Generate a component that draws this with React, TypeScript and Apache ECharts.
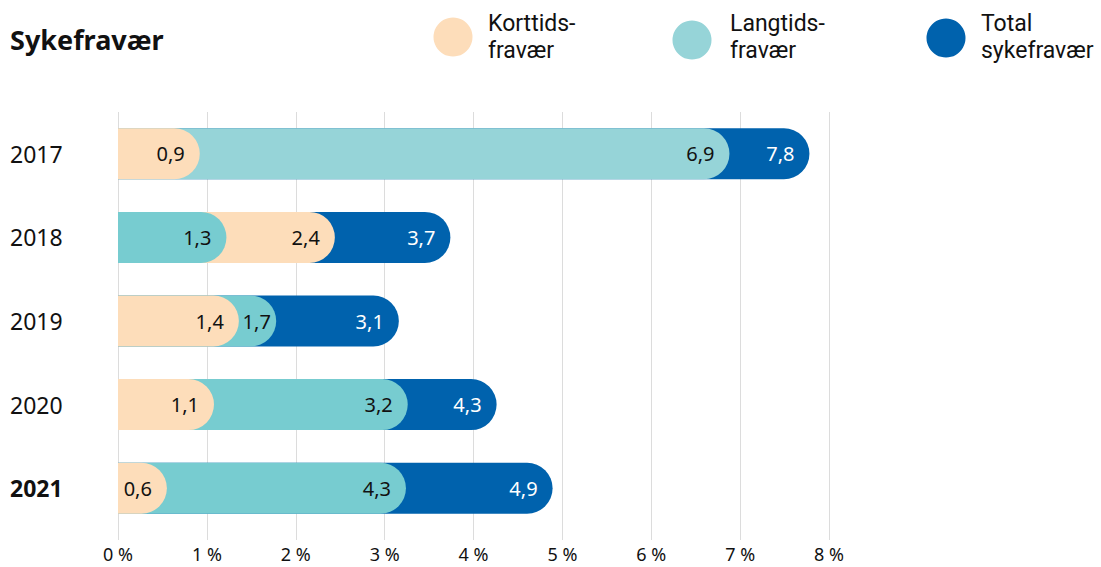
import React, { useEffect, useRef } from "react";
import * as echarts from "echarts";

const years = ["2017", "2018", "2019", "2020", "2021"];
// values as labelled in the reference
const korttids = [0.9, 2.4, 1.4, 1.1, 0.6];
const langtids = [6.9, 1.3, 1.7, 3.2, 4.3];
const total = [7.8, 3.7, 3.1, 4.3, 4.9];
// bar lengths as drawn in the reference (they differ slightly from the labels; 2021 long-term is drawn short)
const korttidsDrawn = [0.92, 2.44, 1.36, 1.08, 0.55];
const langtidsDrawn = [6.88, 1.22, 1.78, 3.26, 3.24];
const totalDrawn = [7.78, 3.74, 3.16, 4.26, 4.89];
const xTicks = [0, 1, 2, 3, 4, 5, 6, 7, 8];

const FONT = "'Noto Sans', sans-serif";
const LEGEND_FONT = "Roboto, 'Noto Sans', sans-serif";
const C_KORT = "#FDDDBA";
const C_LANG = "#77CCD0";
const C_LANG_LIGHT = "#96D4D8";
const C_TOTAL = "#0062AD";
const LABEL_SIZE = 20;

const fmt = (v: number) => v.toFixed(1).replace(".", ",");

export default function App() {
  const ref = useRef<HTMLDivElement>(null);
  useEffect(() => {
    document.body.style.margin = "0";
    if (!ref.current) return;
    const chart = echarts.init(ref.current, undefined, { renderer: "svg" });
    const pxPerUnit = (1101 - 118 - 272) / 8;

    const layers: any[][] = [[], [], []];
    const labelLayers: any[][] = [[], [], []];
    years.forEach((_, i) => {
      const items = [
        { len: totalDrawn[i], text: fmt(total[i]), color: C_TOTAL, labelColor: "#fff" },
        { len: langtidsDrawn[i], text: fmt(langtids[i]), color: i === 0 ? C_LANG_LIGHT : C_LANG, labelColor: "#111" },
        { len: korttidsDrawn[i], text: fmt(korttids[i]), color: C_KORT, labelColor: "#111" },
      ].sort((a, b) => b.len - a.len);
      items.forEach((it, k) => {
        layers[k].push({
          value: it.len,
          itemStyle: { color: it.color, borderRadius: [0, 25.5, 25.5, 0] },
        });
        let distance = 15;
        if (k < 2) {
          const gap = (it.len - items[k + 1].len) * pxPerUnit;
          const textW = LABEL_SIZE * 1.4;
          distance = Math.max(4, Math.min(15, gap - textW - 4));
        }
        labelLayers[k].push({
          value: it.len,
          label: { formatter: it.text, color: it.labelColor, distance },
        });
      });
    });

    const series: any[] = layers.map((data, k) => ({
      type: "bar",
      name: "layer" + k,
      data,
      barWidth: 51,
      barGap: "-100%",
      z: 2 + k,
      silent: true,
    }));
    labelLayers.forEach((data, k) => {
      series.push({
        type: "bar",
        name: "labels" + k,
        data,
        barWidth: 51,
        barGap: "-100%",
        z: 10 + k,
        silent: true,
        itemStyle: { color: "rgba(0,0,0,0)" },
        label: {
          show: true,
          position: "insideRight",
          distance: 15,
          fontFamily: FONT,
          fontSize: LABEL_SIZE,
        },
      });
    });

    const legendItems = [
      { x: 453, y: 37, color: C_KORT, l1: "Korttids-", l2: "fravær", tx: 488 },
      { x: 692, y: 40, color: C_LANG_LIGHT, l1: "Langtids-", l2: "fravær", tx: 730 },
      { x: 946, y: 38, color: C_TOTAL, l1: "Total", l2: "sykefravær", tx: 981 },
    ];
    const graphic: any[] = [
      {
        type: "text",
        left: 10,
        top: 26,
        style: { text: "Sykefravær", fontFamily: FONT, fontWeight: "bold", fontSize: 27, fill: "#111" },
      },
    ];
    legendItems.forEach((l) => {
      graphic.push({ type: "circle", shape: { cx: l.x, cy: l.y, r: 19.5 }, style: { fill: l.color } });
      graphic.push({
        type: "text",
        x: l.tx,
        y: 23,
        style: { text: l.l1, fontFamily: LEGEND_FONT, fontSize: 23, verticalAlign: "middle", fill: "#111" },
      });
      graphic.push({
        type: "text",
        x: l.tx,
        y: 50,
        style: { text: l.l2, fontFamily: LEGEND_FONT, fontSize: 23, verticalAlign: "middle", fill: "#111" },
      });
    });

    chart.setOption({
      animation: false,
      grid: { left: 118, right: 272, top: 112, bottom: 37, containLabel: false },
      xAxis: {
        type: "value",
        min: 0,
        max: 8,
        interval: 1,
        axisLine: { show: false },
        axisTick: { show: true, length: 10, lineStyle: { color: "#dcdcdc" } },
        splitLine: { show: true, lineStyle: { color: "#dcdcdc", width: 1 } },
        axisLabel: {
          fontFamily: FONT,
          fontSize: 18,
          lineHeight: 20,
          color: "#111",
          margin: 14,
          formatter: (v: number) => (xTicks.includes(v) ? v + " %" : ""),
        },
      },
      yAxis: {
        type: "category",
        data: years,
        inverse: true,
        axisLine: { show: false },
        axisTick: { show: false },
        axisLabel: {
          align: "left",
          margin: 108,
          fontFamily: FONT,
          fontSize: 23,
          color: "#111",
          formatter: (v: string) => (v === "2021" ? "{b|" + v + "}" : v),
          rich: { b: { fontFamily: FONT, fontSize: 23, fontWeight: "bold", color: "#111" } },
        },
      },
      series,
      graphic,
    });
    return () => chart.dispose();
  }, []);
  return <div ref={ref} style={{ width: 1101, height: 567 }} />;
}
